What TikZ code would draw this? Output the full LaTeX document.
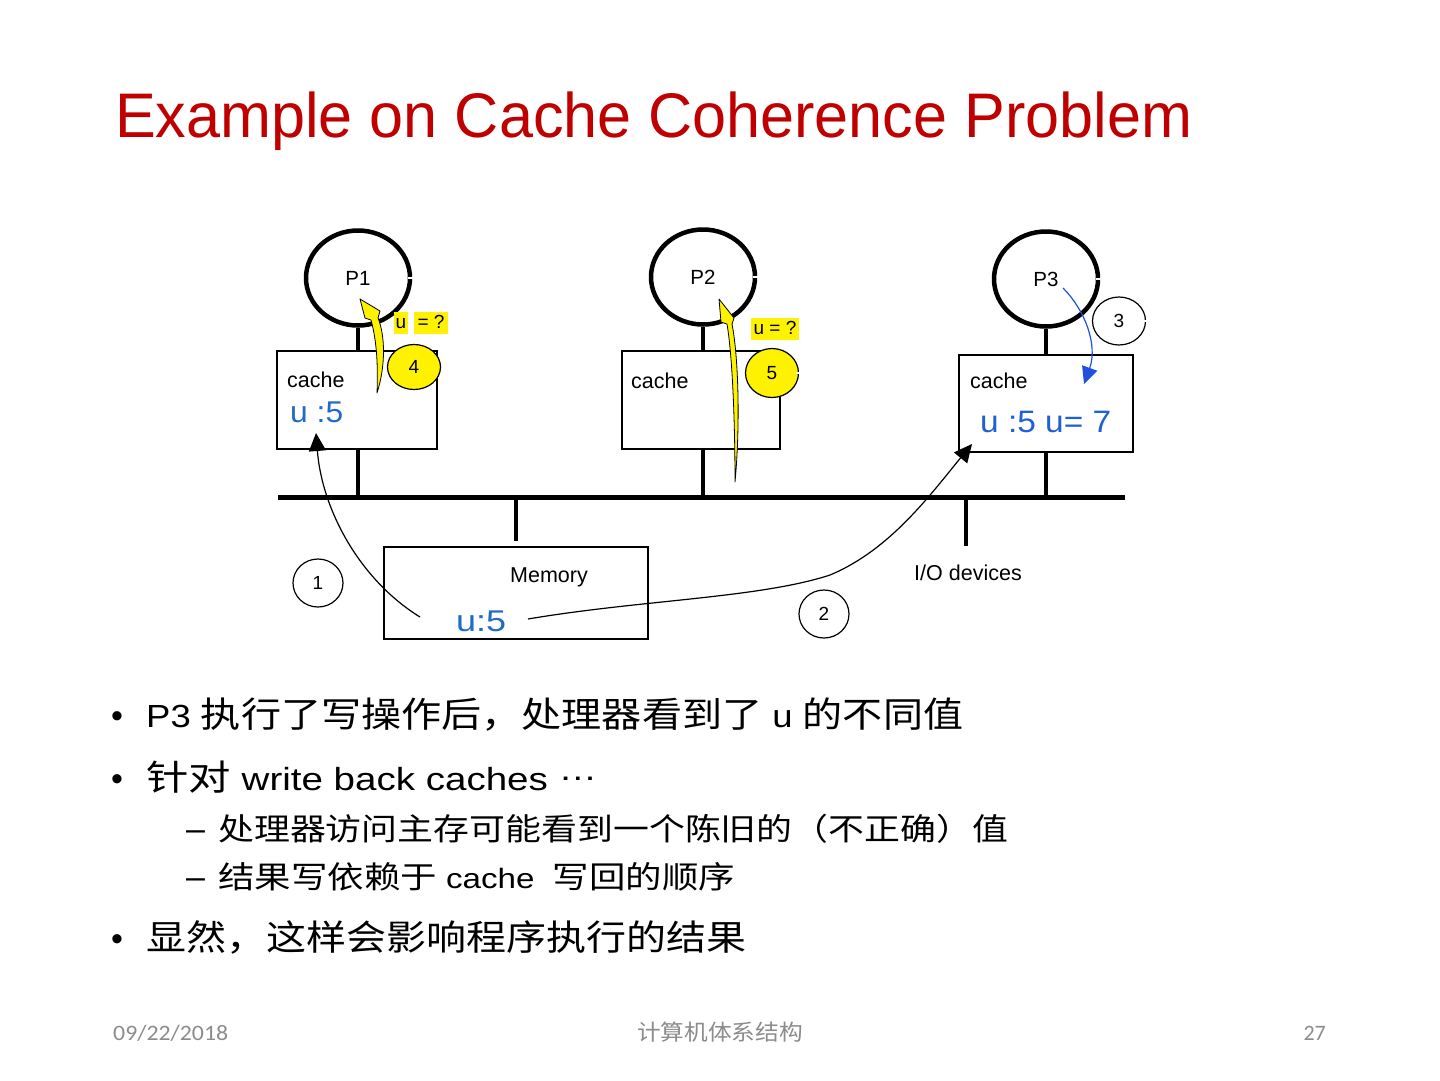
\documentclass[tikz,border=0pt]{standalone}
\usepackage{graphicx}
\usepackage{fontspec}
\setmainfont{Liberation Sans}
\newfontfamily\cjkfont[Scale=1.1]{Noto Sans CJK SC}
\newfontfamily\cjkfoot{Noto Sans CJK SC}
\newfontfamily\footfont{Carlito}
\usetikzlibrary{arrows.meta,shapes.geometric}
\definecolor{titlered}{RGB}{192,0,0}
\definecolor{ublue}{RGB}{31,107,198}
\definecolor{ublue2}{RGB}{32,96,214}
\definecolor{arrblue}{RGB}{32,80,224}
\definecolor{footgray}{RGB}{140,140,140}
\newcommand{\zhtxt}[1]{{\cjkfont #1}}
\newcommand{\fsz}[1]{\fontsize{#1}{#1}\selectfont}
\begin{document}
\begin{tikzpicture}[x=1pt,y=-1pt,
  proc/.style={draw, ellipse, line width=4.5pt, minimum width=104pt, minimum height=95pt, inner sep=0pt, font=\fsz{20.5}},
  cachebox/.style={draw, line width=1.4pt, inner sep=0pt},
  numc/.style={draw, ellipse, line width=1.2pt, fill=white, minimum width=50pt, minimum height=48pt, inner sep=0pt, font=\fsz{19}},
  ylab/.style={fill=yellow, inner xsep=1.5pt, inner ysep=2pt, text height=14pt, text depth=4pt, font=\fsz{19}},
  stub/.style={line width=4.5pt},
  busline/.style={line width=5pt},
  conn/.style={line width=1.2pt, -{Triangle[length=18pt,width=17pt]}},
  yarrow/.style={fill=yellow, draw=black, line width=0.8pt, line join=round},
  txt/.style={inner sep=0pt},
  small/.style={inner sep=0pt, font=\fsz{21.5}},
  glint/.style={white, line width=1.3pt}
]
\useasboundingbox (0,0) rectangle (1440,1080);
\fill[white] (0,0) rectangle (1440,1080);

% title
\node[txt, anchor=base west, font=\fsz{63}, text=titlered] (title) at (115,137)
  {\resizebox{1077pt}{\height}{Example on Cache Coherence Problem}};

% processors
\node[proc] (p1) at (358,278) {P1};
\node[proc] (p2) at (703,277) {P2};
\node[proc] (p3) at (1046,279) {P3};
\draw[glint] ([xshift=-4pt]p1.east) -- ([xshift=3pt]p1.east);
\draw[glint] ([xshift=-4pt]p2.east) -- ([xshift=3pt]p2.east);
\draw[glint] ([xshift=-4pt]p3.east) -- ([xshift=3pt]p3.east);

% caches
\node[cachebox, minimum width=160pt, minimum height=98pt] (c1) at (357,400) {};
\node[cachebox, minimum width=158pt, minimum height=98pt] (c2) at (701,400) {};
\node[cachebox, minimum width=174pt, minimum height=97pt] (c3) at (1046,403.5) {};

\draw[stub] (p1.south) -- (p1.south |- c1.north);
\draw[stub] (p2.south) -- (p2.south |- c2.north);
\draw[stub] (p3.south) -- (p3.south |- c3.north);

% bus
\coordinate (busL) at (278,497);
\coordinate (busR) at (1125,497);
\draw[busline] (busL) -- (busR);
\draw[stub] (p1.south |- c1.south) -- (p1.south |- busL);
\draw[stub] (p2.south |- c2.south) -- (p2.south |- busL);
\draw[stub] (p3.south |- c3.south) -- (p3.south |- busL);

% memory
\node[cachebox, minimum width=264pt, minimum height=92pt] (mem) at (516,593) {};
\draw[stub] (mem.north |- busL) -- ([yshift=5pt]mem.north);
\node[small] (memt) at (549,577) {Memory};
\node[txt, anchor=base west, font=\fsz{30}, text=ublue] (memu) at (456,631)
  {\resizebox{50pt}{\height}{u:5}};

% I/O
\node[small] (io) at (968,573) {I/O devices};
\coordinate (iot) at (966,546);
\draw[stub] (iot |- busL) -- (iot);

% cache texts
\node[small, anchor=base west] (c1t) at (287,387) {cache};
\node[small, anchor=base west] (c2t) at (631,388) {cache};
\node[small, anchor=base west] (c3t) at (970,388) {cache};
\node[txt, anchor=base west, font=\fsz{30}, text=ublue] (c1u) at (290,422)
  {\resizebox{53pt}{\height}{u :5}};
\node[txt, anchor=base west, font=\fsz{31}, text=ublue2] (c3u) at (980,432)
  {\resizebox{131pt}{\height}{u :5 u= 7}};

% yellow arrows
\draw[yarrow] (377,393) .. controls (386,365) and (385,335) .. (378,318) -- (380,311) -- (360,299) -- (365,318) -- (371,320) .. controls (377,342) and (378,366) .. (377,393) -- cycle;
\draw[yarrow] (735,482) .. controls (740,430) and (739,360) .. (732,324) -- (734,318) -- (719,299) -- (721,322) -- (727,324) .. controls (733,360) and (735,430) .. (735,482) -- cycle;

% labels u = ?
\node[ylab] (q1u) at (401,323) {u};
\node[ylab, inner xsep=4pt] (q1) at (431,323) {= ?};
\node[ylab, inner xsep=3pt] (q2) at (775,329) {u = ?};

% numbered circles
\node[numc] (n1) at (318,583) {1};
\node[numc] (n2) at (824,614) {2};
\node[numc, minimum width=53pt] (n3) at (1119,321) {3};
\node[numc, fill=yellow, minimum width=53pt, minimum height=45pt] (n4) at (414,367) {4};
\node[numc, fill=yellow, minimum width=53pt, minimum height=49pt] (n5) at (772,373) {5};
\draw[glint] ([xshift=-3pt]n5.east) -- ([xshift=2pt]n5.east);
\draw[glint] ([xshift=-3pt]n3.east) -- ([xshift=2pt]n3.east);

% black arrows
\coordinate (a1s) at (420,617);
\coordinate (a1e) at (316,433);
\coordinate (a2s) at (528,619);
\coordinate (a2m) at (830,575);
\coordinate (a2e) at (972,444);
\draw[conn] (a1s) .. controls (360,580) and (322,510) .. (a1e);
\draw[conn] (a2s) .. controls (640,600) and (760,598) .. (a2m) .. controls (890,550) and (930,495) .. (a2e);

% blue arrow
\coordinate (a3s) at (1063,288);
\coordinate (a3e) at (1084,384);
\draw[line width=1.2pt, arrblue, -{Triangle[length=17pt,width=16pt]}] (a3s) .. controls (1085,310) and (1098,345) .. (a3e);

% bullets
\node[txt, anchor=base west, font=\fsz{34}] (b1) at (111,727) {\textbullet};
\node[txt, anchor=base west, font=\fsz{32}] (l1) at (146,727)
  {\resizebox{817pt}{\height}{P3 \zhtxt{执行了写操作后，处理器看到了} u \zhtxt{的不同值}}};
\node[txt, anchor=base west, font=\fsz{34}] (b2) at (111,790) {\textbullet};
\node[txt, anchor=base west, font=\fsz{32}] (l2) at (146,790)
  {\resizebox{451pt}{\height}{\zhtxt{针对} write back caches \raisebox{0.3em}{…}}};
\node[txt, anchor=base west, font=\fsz{34}] (d1) at (186,840) {–};
\node[txt, anchor=base west, font=\fsz{28}] (s1) at (218,840)
  {\resizebox{790pt}{\height}{\zhtxt{处理器访问主存可能看到一个陈旧的（不正确）值}}};
\node[txt, anchor=base west, font=\fsz{34}] (d2) at (186,888) {–};
\node[txt, anchor=base west, font=\fsz{28}] (s2) at (218,888)
  {\resizebox{517pt}{\height}{\zhtxt{结果写依赖于} cache~ \zhtxt{写回的顺序}}};
\node[txt, anchor=base west, font=\fsz{34}] (b3) at (111,950) {\textbullet};
\node[txt, anchor=base west, font=\fsz{32}] (l3) at (146,950)
  {\resizebox{600pt}{\height}{\zhtxt{显然，这样会影响程序执行的结果}}};

% footer
\node[txt, anchor=base west, font={\footfont\fsz{22}}, text=footgray] (date) at (113,1040)
  {\resizebox{115pt}{\height}{09/22/2018}};
\node[txt, anchor=base, font={\cjkfoot\fsz{22}}, text=footgray] (ftitle) at (720,1040)
  {\resizebox{166pt}{\height}{计算机体系结构}};
\node[txt, anchor=base east, font={\footfont\fsz{22}}, text=footgray] (pg) at (1326,1040) {27};
\end{tikzpicture}
\end{document}
